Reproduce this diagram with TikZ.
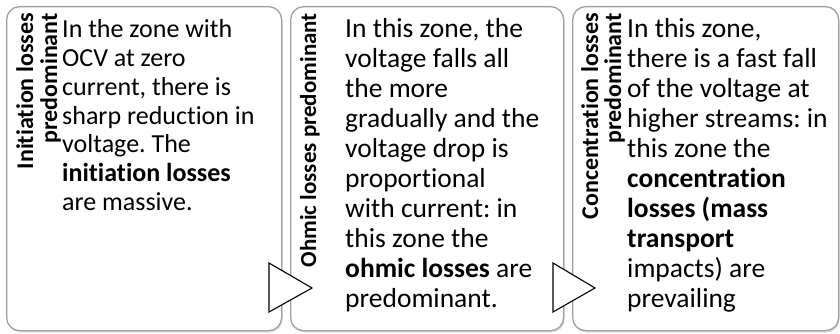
\documentclass[tikz,border=0pt]{standalone}
\usepackage{fontspec}
\setmainfont{Carlito}[Ligatures=NoCommon]
\frenchspacing
\definecolor{boxgray}{HTML}{A0A0A0}
\tikzset{
  zone/.style={draw=boxgray, line width=1.3pt, fill=white, rounded corners=13pt,
    rectangle, anchor=north west, inner sep=0pt, minimum height=324pt},
  zoneshadow/.style={fill=black!14, rounded corners=13pt},
  chev/.style={draw=black, line width=1.1pt, fill=white, line join=miter},
  vtitle/.style={rotate=90, anchor=base east, inner sep=0pt,
    font=\fontsize{24}{26}\selectfont\bfseries},
  bodyA/.style={anchor=base west, inner sep=0pt, font=\fontsize{26}{28.7}\selectfont},
  bodyB/.style={anchor=base west, inner sep=0pt, font=\fontsize{27.5}{30}\selectfont},
}
\begin{document}
\begin{tikzpicture}[x=1pt, y=-1pt]
\useasboundingbox (0,0) rectangle (840,334);
% shadows
\fill[zoneshadow] (7.5,8) rectangle (282.5,332.5);
\fill[zoneshadow] (291.5,8) rectangle (564.5,332.5);
\fill[zoneshadow] (573.5,8) rectangle (839.5,332.5);
% boxes
\node[zone, minimum width=275pt] (z1) at (6,6) {};
\node[zone, minimum width=273pt] (z2) at (290,6) {};
\node[zone, minimum width=266pt] (z3) at (572,6) {};
% vertical titles
\node[vtitle] (t1a) at (33,13) {Initiation losses};
\node[vtitle] (t1b) at (57,13) {predominant};
\node[vtitle, font=\fontsize{23}{25}\selectfont\bfseries] (t2) at (316,13) {Ohmic losses predominant};
\node[vtitle] (t3a) at (598,13) {Concentration losses};
\node[vtitle] (t3b) at (621,13) {predominant};
% body texts
\node[bodyA] (b1) at (62,38) {\vtop{\baselineskip=28.7pt
  \hbox{In the zone with}\hbox{OCV at zero}\hbox{current, there is}
  \hbox{sharp reduction in}\hbox{voltage. The}\hbox{\bfseries initiation losses}
  \hbox{are massive.}}};
\node[bodyB] (b2) at (345,38) {\vtop{\baselineskip=30pt
  \hbox{In this zone, the}\hbox{voltage falls all}\hbox{the more}
  \hbox{gradually and the}\hbox{voltage drop is}\hbox{proportional}
  \hbox{with current: in}\hbox{this zone the}\hbox{\textbf{ohmic losses} are}
  \hbox{predominant.}}};
\node[bodyB] (b3) at (627,38) {\vtop{\baselineskip=30pt
  \hbox{In this zone,}\hbox{there is a fast fall}\hbox{of the voltage at}
  \hbox{higher streams: in}\hbox{this zone the}\hbox{\bfseries concentration}
  \hbox{\bfseries losses (mass}\hbox{\bfseries transport}\hbox{impacts) are}
  \hbox{prevailing}}};
% chevron triangles
\draw[chev] (269,263) -- (312,288) -- (269,312) -- cycle;
\draw[chev] (553,263) -- (595,288) -- (553,312) -- cycle;
\end{tikzpicture}
\end{document}
